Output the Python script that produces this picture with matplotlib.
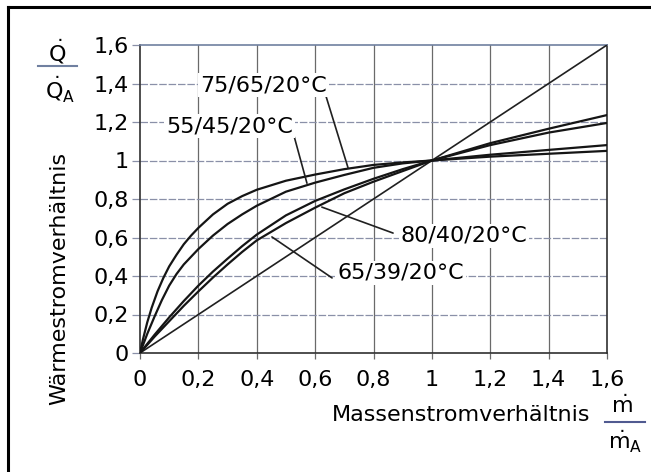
import numpy as np
import matplotlib.pyplot as plt
from matplotlib.lines import Line2D

# mass flow ratio (x) and heat flow ratio (y)
x_7565 = [0, 0.01, 0.025, 0.04, 0.06, 0.08, 0.1, 0.125, 0.15, 0.175, 0.2, 0.25, 0.3, 0.35,
          0.4, 0.5, 0.6, 0.7, 0.8, 0.9, 1.0, 1.2, 1.4, 1.6]
y_7565 = [0, 0.07, 0.16, 0.235, 0.32, 0.39, 0.45, 0.51, 0.565, 0.61, 0.65, 0.72, 0.775, 0.815,
          0.848, 0.895, 0.927, 0.955, 0.977, 0.99, 1.0, 1.02, 1.035, 1.05]

x_5545 = [0, 0.025, 0.05, 0.075, 0.1, 0.125, 0.15, 0.2, 0.25, 0.3, 0.35, 0.4, 0.5, 0.6,
          0.7, 0.8, 0.9, 1.0, 1.2, 1.4, 1.6]
y_5545 = [0, 0.1, 0.19, 0.275, 0.35, 0.41, 0.46, 0.54, 0.61, 0.67, 0.72, 0.765, 0.838, 0.885,
          0.925, 0.962, 0.985, 1.0, 1.03, 1.055, 1.08]

x_6539 = [0, 0.05, 0.1, 0.15, 0.2, 0.25, 0.3, 0.35, 0.4, 0.5, 0.6, 0.7, 0.8, 0.9, 1.0, 1.2, 1.4, 1.6]
y_6539 = [0, 0.095, 0.185, 0.27, 0.35, 0.423, 0.49, 0.555, 0.615, 0.715, 0.79, 0.85, 0.905, 0.955,
          1.0, 1.08, 1.145, 1.195]

x_8040 = [0, 0.05, 0.1, 0.15, 0.2, 0.25, 0.3, 0.35, 0.4, 0.5, 0.6, 0.7, 0.8, 0.9, 1.0, 1.2, 1.4, 1.6]
y_8040 = [0, 0.085, 0.165, 0.245, 0.32, 0.392, 0.46, 0.525, 0.585, 0.675, 0.755, 0.83, 0.89, 0.945,
          1.0, 1.09, 1.165, 1.236]

x_diag = [0, 1.6]
y_diag = [0, 1.6]

ticks = [0, 0.2, 0.4, 0.6, 0.8, 1.0, 1.2, 1.4, 1.6]
tick_labels = ["0", "0,2", "0,4", "0,6", "0,8", "1", "1,2", "1,4", "1,6"]

# label text, label centre, pointer start, pointer end (on curve)
labels = ["75/65/20°C", "55/45/20°C", "80/40/20°C", "65/39/20°C"]
label_pos = [(0.423, 1.392), (0.308, 1.179), (1.11, 0.608), (0.893, 0.416)]
ptr_from = [(0.634, 1.35), (0.524, 1.148), (0.867, 0.623), (0.658, 0.39)]
ptr_to = [(0.713, 0.961), (0.572, 0.882), (0.623, 0.758), (0.452, 0.603)]

W, H = 651, 472
fig = plt.figure(figsize=(W / 100, H / 100), dpi=100)
ax = fig.add_axes([140 / W, 1 - 353 / H, 467 / W, 308 / H])

for xv in ticks[1:-1]:
    ax.axvline(xv, color="#6a6a6a", lw=0.9, zorder=1)
for yv in ticks[1:-1]:
    ax.axhline(yv, color="#8a90a8", lw=0.9, ls=(0, (6, 1.5)), zorder=1)

ax.plot(x_diag, y_diag, color="#202020", lw=1.2, zorder=3)
for xs, ys in [(x_7565, y_7565), (x_5545, y_5545), (x_6539, y_6539), (x_8040, y_8040)]:
    ax.plot(xs, ys, color="#151515", lw=1.6, zorder=3, solid_joinstyle="round")

for txt, lp, p0, p1 in zip(labels, label_pos, ptr_from, ptr_to):
    ax.annotate("", xy=p1, xytext=p0,
                arrowprops=dict(arrowstyle="-", color="#202020", lw=1.2,
                                shrinkA=0, shrinkB=0), zorder=4)
    ax.text(lp[0], lp[1], txt, fontsize=16, ha="center", va="center", zorder=5,
            bbox=dict(facecolor="white", edgecolor="none", pad=1.5))

ax.set_xlim(0, 1.6)
ax.set_ylim(0, 1.6)
ax.set_xticks(ticks)
ax.set_xticklabels(tick_labels)
ax.set_yticks(ticks)
ax.set_yticklabels(tick_labels)
ax.tick_params(axis="x", direction="out", length=4, width=0.9, color="#6a6a6a",
               labelsize=16, pad=8)
ax.tick_params(axis="y", direction="out", length=6, width=0.9, color="#8a90a8",
               labelsize=16, pad=2)
for side in ["left", "right", "bottom"]:
    ax.spines[side].set_color("#303030")
    ax.spines[side].set_linewidth(1.2)
ax.spines["top"].set_color("#7080a0")
ax.spines["top"].set_linewidth(1.2)

# axis titles
fig.text(59 / W, 1 - 278 / H, "Wärmestromverhältnis", rotation=90,
         fontsize=16, ha="center", va="center")
fig.text(461 / W, 1 - 415 / H, "Massenstromverhältnis", fontsize=16,
         ha="center", va="center")

# fraction labels
fig.text(57 / W, 1 - 52 / H, r"$\dot{\mathrm{Q}}$", fontsize=16, ha="center", va="center")
fig.text(60 / W, 1 - 90 / H, r"$\dot{\mathrm{Q}}_\mathrm{A}$", fontsize=16, ha="center", va="center")
fig.add_artist(Line2D([38 / W, 77 / W], [1 - 66 / H, 1 - 66 / H], color="#7080a0", lw=1.5))

fig.text(622 / W, 1 - 406 / H, r"$\dot{\mathrm{m}}$", fontsize=16, ha="center", va="center")
fig.text(625 / W, 1 - 442 / H, r"$\dot{\mathrm{m}}_\mathrm{A}$", fontsize=16, ha="center", va="center")
fig.add_artist(Line2D([605 / W, 645 / W], [1 - 422 / H, 1 - 422 / H], color="#505a90", lw=1.5))

# outer frame (only top and left visible in the crop)
fig.add_artist(Line2D([8 / W, 8 / W], [0, 1 - 7 / H], color="black", lw=2.2))
fig.add_artist(Line2D([8 / W, 1], [1 - 7 / H, 1 - 7 / H], color="black", lw=2.2))

fig.savefig("out.png", dpi=100)
